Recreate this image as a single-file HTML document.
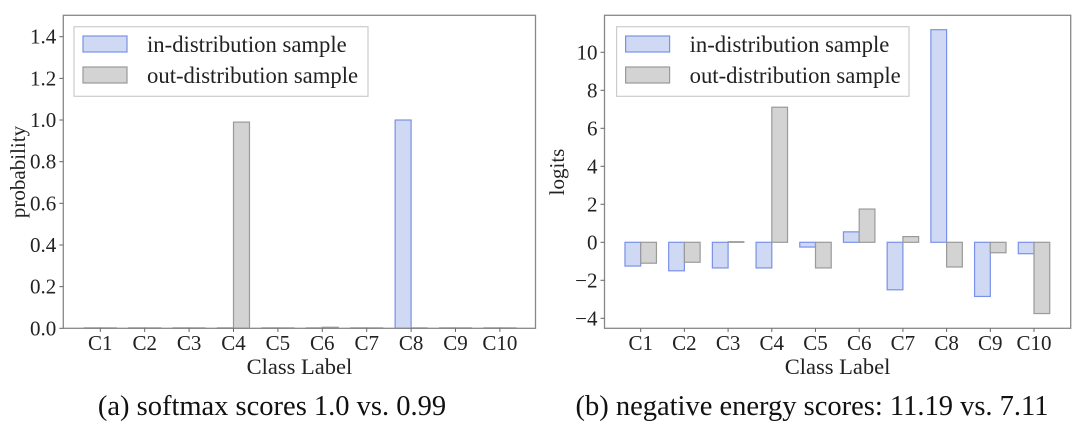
<!DOCTYPE html>
<html><head><meta charset="utf-8"><style>
body{margin:0;background:#fff;}
svg{display:block;font-family:"Liberation Serif","DejaVu Serif",serif;}
</style></head><body>
<svg id="fig" width="1080" height="429" viewBox="0 0 1080 429"></svg>
<script>
const categories = ["C1","C2","C3","C4","C5","C6","C7","C8","C9","C10"];
const softIn  = [0.002,0.002,0.002,0.002,0.002,0.002,0.002,1.0,0.002,0.002];
const softOut = [0.002,0.002,0.002,0.99,0.002,0.005,0.002,0.002,0.002,0.002];
const softTicks = [0.0,0.2,0.4,0.6,0.8,1.0,1.2,1.4];
const logIn  = [-1.25,-1.5,-1.35,-1.35,-0.25,0.55,-2.5,11.19,-2.85,-0.6];
const logOut = [-1.1,-1.05,0.03,7.11,-1.35,1.75,0.3,-1.3,-0.55,-3.75];
const logTicks = [-4,-2,0,2,4,6,8,10];

const NS="http://www.w3.org/2000/svg";
const svg=document.getElementById('fig');
function mk(tag,attrs,parent){const e=document.createElementNS(NS,tag);for(const k in attrs)e.setAttribute(k,attrs[k]);(parent||svg).appendChild(e);return e;}

function panel(cfg){
  const g=mk('g',{});
  
  
  const y=v=>cfg.y0+(v-cfg.vmin)*(cfg.y1-cfg.y0)/(cfg.vmax-cfg.vmin);
  const x=i=>cfg.c0+i*cfg.step;
  const bw=cfg.step*0.36;
  categories.forEach((c,i)=>{
    const a=cfg.inVals[i], b=cfg.outVals[i];
    const r1=mk('rect',{x:x(i)-bw,y:Math.min(y(a),y(0)),width:bw,height:Math.abs(y(a)-y(0)),fill:'#d0d9f3',stroke:'#7991e8','stroke-width':1.2},g);
    
    
    const r2=mk('rect',{x:x(i),y:Math.min(y(b),y(0)),width:bw,height:Math.abs(y(b)-y(0)),fill:'#d3d3d3',stroke:'#9a9a9a','stroke-width':1.2},g);
    
    
  });
  const fr=mk('rect',{x:cfg.fx0,y:15.3,width:cfg.fx1-cfg.fx0,height:328.3-15.3,fill:'none',stroke:'#888','stroke-width':1.3},g);
  
  
  cfg.ticks.forEach(t=>{
    mk('line',{x1:cfg.fx0-4,x2:cfg.fx0,y1:y(t),y2:y(t),stroke:'#666','stroke-width':1},g);
    const lab=(cfg.decimals? t.toFixed(1): (t<0?'\u2212'+Math.abs(t):String(t)));
    const tx=mk('text',{x:cfg.fx0-7,y:y(t)+7,'text-anchor':'end','font-size':21,fill:'#222'},g);
    tx.textContent=lab;
    
    
  });
  categories.forEach((c,i)=>{
    mk('line',{x1:x(i),x2:x(i),y1:328.3,y2:332,stroke:'#666','stroke-width':1},g);
    const tx=mk('text',{x:x(i),y:350,'text-anchor':'middle','font-size':21,fill:'#222'},g);
    tx.textContent=c;
    
    
  });
  const xl=mk('text',{x:(cfg.fx0+cfg.fx1)/2,y:374,'text-anchor':'middle','font-size':22.5,fill:'#222'},g);
  xl.textContent='Class Label';
  
  
  const yl=mk('text',{x:0,y:0,'text-anchor':'middle','font-size':21,fill:'#222',transform:`translate(${cfg.ylx},172) rotate(-90)`},g);
  yl.textContent=cfg.ylabel;
  
  
  const lg=mk('g',{},g);
  
  
  mk('rect',{x:cfg.lx,y:26.7,width:cfg.lw,height:69.6,fill:'#fff',stroke:'#ccc','stroke-width':1.2},lg);
  mk('rect',{x:cfg.lx+9,y:36,width:44,height:16,fill:'#d0d9f3',stroke:'#7991e8','stroke-width':1.2},lg);
  mk('rect',{x:cfg.lx+9,y:67,width:44,height:16,fill:'#d3d3d3',stroke:'#9a9a9a','stroke-width':1.2},lg);
  const t1=mk('text',{x:cfg.lx+73,y:52,'font-size':22.7,fill:'#222'},lg);
  t1.textContent='in-distribution sample';
  
  
  const t2=mk('text',{x:cfg.lx+73,y:83,'font-size':22.7,fill:'#222'},lg);
  t2.textContent='out-distribution sample';
  
  
  const cap=mk('text',{x:cfg.capx,y:415,'text-anchor':'middle','font-size':28.5,fill:'#111'},g);
  cap.textContent=cfg.caption;
  
  
}
panel({name:'softmax-chart',fx0:63.3,fx1:535.5,c0:100.3,step:44.4,vmin:0,vmax:1.4,y0:328.3,y1:36.7,
  inVals:softIn,outVals:softOut,ticks:softTicks,decimals:true,ylabel:'probability',ylx:25,
  lx:74,lw:294,caption:'(a)  softmax scores 1.0 vs. 0.99',capx:272});
panel({name:'energy-chart',fx0:604.5,fx1:1070.7,c0:640.7,step:43.7,vmin:0,vmax:10,y0:242.3,y1:52.3,
  inVals:logIn,outVals:logOut,ticks:logTicks,decimals:false,ylabel:'logits',ylx:564,
  lx:616.6,lw:292.4,caption:'(b)  negative energy scores: 11.19 vs. 7.11',capx:812});
</script>
</body></html>
